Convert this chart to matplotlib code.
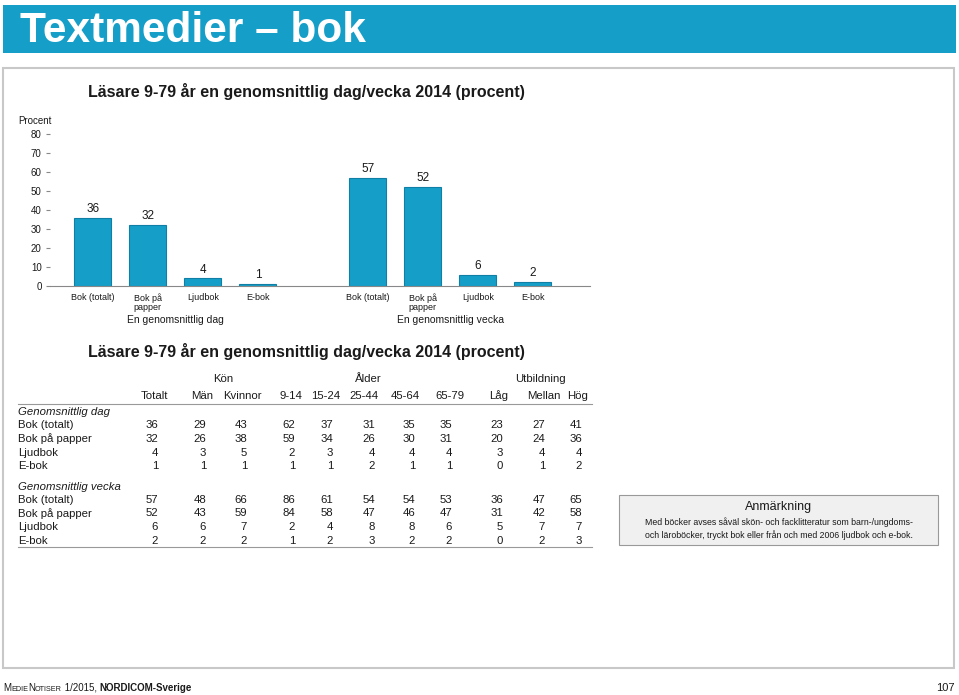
import matplotlib
matplotlib.use('Agg')
import matplotlib.pyplot as plt
from matplotlib.patches import Rectangle
from matplotlib.offsetbox import TextArea, HPacker, AnchoredOffsetbox

plt.rcParams['font.family'] = ['Liberation Sans', 'DejaVu Sans']

# chart data
categories = ['Bok (totalt)', 'Bok på\npapper', 'Ljudbok', 'E-bok']
dag = [36, 32, 4, 1]
vecka = [57, 52, 6, 2]
group_names = ['En genomsnittlig dag', 'En genomsnittlig vecka']

# table data
col_groups = ['Kön', 'Ålder', 'Utbildning']
columns = ['Totalt', 'Män', 'Kvinnor', '9-14', '15-24', '25-44', '45-64', '65-79', 'Låg', 'Mellan', 'Hög']
row_labels = ['Bok (totalt)', 'Bok på papper', 'Ljudbok', 'E-bok']
table_dag = [
    [36, 29, 43, 62, 37, 31, 35, 35, 23, 27, 41],
    [32, 26, 38, 59, 34, 26, 30, 31, 20, 24, 36],
    [4, 3, 5, 2, 3, 4, 4, 4, 3, 4, 4],
    [1, 1, 1, 1, 1, 2, 1, 1, 0, 1, 2],
]
table_vecka = [
    [57, 48, 66, 86, 61, 54, 54, 53, 36, 47, 65],
    [52, 43, 59, 84, 58, 47, 46, 47, 31, 42, 58],
    [6, 6, 7, 2, 4, 8, 8, 6, 5, 7, 7],
    [2, 2, 2, 1, 2, 3, 2, 2, 0, 2, 3],
]

W, H = 959, 695
fig = plt.figure(figsize=(W / 100, H / 100), dpi=100)

def fx(x):
    return x / W

def fy(y):
    return 1 - y / H

blue = '#159fc8'
grey_txt = '#1a1a1a'
tsize = 8.2

# banner
fig.patches.append(Rectangle((fx(3), fy(53)), fx(953), 48 / H, transform=fig.transFigure,
                             facecolor=blue, edgecolor='none'))
fig.text(fx(20), fy(42.5), 'Textmedier – bok', color='white', fontsize=30.5, fontweight='bold',
         va='baseline', ha='left')

# panel frame
fig.patches.append(Rectangle((fx(3), fy(668)), fx(951), 600 / H, transform=fig.transFigure,
                             facecolor='none', edgecolor='#c8c8c8', linewidth=1.5))

title = 'Läsare 9-79 år en genomsnittlig dag/vecka 2014 (procent)'
fig.text(fx(88), fy(97), title, fontsize=11.5, fontweight='bold', va='baseline', color=grey_txt)
fig.text(fx(18), fy(121), 'Procent', fontsize=7, va='center', color=grey_txt)

# bar chart
ax = fig.add_axes([fx(50), fy(286), fx(540), 152 / H])
pos_dag = [0, 1, 2, 3]
pos_vecka = [5, 6, 7, 8]
for pos, vals in [(pos_dag, dag), (pos_vecka, vecka)]:
    bars = ax.bar(pos, vals, width=0.67, color=blue, edgecolor='#0f7fa6', linewidth=0.8)
    for b, v in zip(bars, vals):
        ax.text(b.get_x() + b.get_width() / 2, v + 1.5, str(v), ha='center', va='bottom',
                fontsize=8.5, color=grey_txt)
ax.set_xlim(-0.78, 9.04)
ax.set_ylim(0, 80)
ax.set_yticks(range(0, 81, 10))
ax.tick_params(axis='y', labelsize=7, length=3, color='#888888', pad=3, labelcolor=grey_txt)
ax.set_xticks(pos_dag + pos_vecka)
ax.set_xticklabels(categories * 2, fontsize=6.5, va='top', linespacing=1.1)
ax.tick_params(axis='x', length=0, pad=5, labelcolor=grey_txt)
for s in ['left', 'top', 'right']:
    ax.spines[s].set_visible(False)
ax.spines['bottom'].set_color('#888888')
ax.spines['bottom'].set_linewidth(0.8)
for name, pos in zip(group_names, [pos_dag, pos_vecka]):
    ax.text((pos[0] + pos[-1]) / 2, -18, name, ha='center', va='center', fontsize=7.5,
            color=grey_txt, clip_on=False)

# table
fig.text(fx(88), fy(357), title, fontsize=11.5, fontweight='bold', va='baseline', color=grey_txt)
group_x = [223, 368, 540]
for g, x in zip(col_groups, group_x):
    fig.text(fx(x), fy(379), g, ha='center', va='center', fontsize=tsize, color=grey_txt)
head_right = [168, 213, 262, 302, 340, 378, 420, 465, 508, 560, 588]
for c, x in zip(columns, head_right):
    fig.text(fx(x), fy(396), c, ha='right', va='center', fontsize=tsize, color=grey_txt)
val_right = [158, 206, 247, 295, 333, 375, 415, 452, 503, 545, 582]

fig.add_artist(plt.Line2D([fx(18), fx(592)], [fy(404), fy(404)], color='#999999', linewidth=0.8))
fig.add_artist(plt.Line2D([fx(18), fx(592)], [fy(547), fy(547)], color='#999999', linewidth=0.8))

for head, y0, data in [('Genomsnittlig dag', 412, table_dag), ('Genomsnittlig vecka', 486.5, table_vecka)]:
    fig.text(fx(18), fy(y0), head, fontsize=tsize, style='italic', va='center', color=grey_txt)
    for i, (lab, row) in enumerate(zip(row_labels, data)):
        y = y0 + 13.5 * (i + 1)
        fig.text(fx(18), fy(y), lab, fontsize=tsize, va='center', color=grey_txt)
        for v, x in zip(row, val_right):
            fig.text(fx(x), fy(y), str(v), ha='right', va='center', fontsize=tsize, color=grey_txt)

# note box
fig.patches.append(Rectangle((fx(619), fy(545)), fx(319), 50 / H, transform=fig.transFigure,
                             facecolor='#f0f0f0', edgecolor='#999999', linewidth=0.8))
fig.text(fx(779), fy(507), 'Anmärkning', ha='center', va='center', fontsize=9, color=grey_txt)
fig.text(fx(779), fy(528.5), 'Med böcker avses såväl skön- och facklitteratur som barn-/ungdoms-\n'
         'och läroböcker, tryckt bok eller från och med 2006 ljudbok och e-bok.',
         ha='center', va='center', fontsize=6.3, linespacing=1.35, color=grey_txt)

# footer
parts = [('M', 7, 'normal'), ('EDIE', 5.2, 'normal'), ('N', 7, 'normal'), ('OTISER', 5.2, 'normal'),
         (' 1/2015, ', 7, 'normal'), ('NORDICOM-Sverige', 7, 'bold')]
boxes = [TextArea(t, textprops=dict(fontsize=s, fontweight=w, color=grey_txt)) for t, s, w in parts]
pack = HPacker(children=boxes, align='baseline', pad=0, sep=0)
anch = AnchoredOffsetbox(loc='lower left', child=pack, frameon=False, pad=0, borderpad=0,
                         bbox_to_anchor=(fx(3), fy(693)), bbox_transform=fig.transFigure)
fig.add_artist(anch)
fig.text(fx(955), fy(688), '107', ha='right', va='center', fontsize=8, color=grey_txt)

fig.savefig('out.png', dpi=100)
